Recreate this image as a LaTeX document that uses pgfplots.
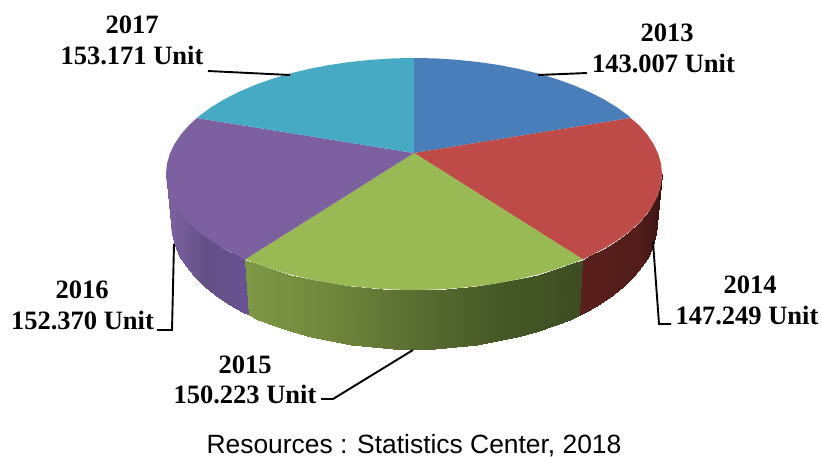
\documentclass[border=0pt]{standalone}
\usepackage{fontspec}
\setmainfont{Liberation Serif}
\newfontfamily\sourcefont{Liberation Sans}
\usepackage{pgfplots}
\pgfplotsset{compat=1.18}

% Top faces
\definecolor{c2013}{HTML}{4A7EBB}
\definecolor{c2014}{HTML}{BE4B48}
\definecolor{c2015}{HTML}{98B954}
\definecolor{c2016}{HTML}{7D60A0}
\definecolor{c2017}{HTML}{46AAC5}
% Mid tones laid under the shaded rims
\definecolor{base2014}{RGB}{80,28,26}
\definecolor{base2015}{RGB}{90,110,50}
\definecolor{base2016}{RGB}{106,84,142}

\tikzset{
  leader/.style={black, line width=1.9pt},
  yearlabel/.style={font=\fontsize{26.5}{26.5}\selectfont\bfseries, anchor=base, inner sep=0pt},
}
\pgfplotsset{
  rim/.style={patch, patch type=rectangle, shader=interp, point meta=x},
  colormap={rimPurple}{rgb255(0)=(122,97,158) rgb255(172)=(122,97,158) rgb255(205)=(100,80,135) rgb255(249)=(105,82,145) rgb255(821)=(105,82,145)},
  colormap={rimGreen}{rgb255(0)=(126,152,70) rgb255(245)=(126,152,70) rgb255(330)=(112,135,60) rgb255(414)=(90,110,50) rgb255(500)=(70,88,38) rgb255(583)=(62,77,34) rgb255(821)=(62,77,34)},
  colormap={rimRed}{rgb255(0)=(90,31,28) rgb255(580)=(90,31,28) rgb255(640)=(82,29,27) rgb255(662)=(58,20,18) rgb255(821)=(58,20,18)},
}

\begin{document}
\begin{tikzpicture}
\path[use as bounding box] (0,0) rectangle (821pt,457pt);
\begin{axis}[
  at={(0,0)}, anchor=south west,
  scale only axis, width=821pt, height=457pt,
  xmin=0, xmax=821, ymin=0, ymax=457, y dir=reverse,
  point meta min=0, point meta max=821,
  hide axis, clip=false,
  every axis plot/.append style={forget plot},
]
% Flat underlays of the three visible rim sections
\addplot[fill=base2016, draw=none, no markers] coordinates {
  (168,176) (169.8,194.1) (181,213.7) (199.2,232) (224,248.6) (246,262)
  (248.5,314) (242.2,311) (227.9,303) (215,294.3) (203.6,285) (193.8,275.2)
  (185.7,265.1) (179.3,254.6) (174.7,243.9) (171.9,233)
} -- cycle;
\addplot[fill=base2015, draw=none, no markers] coordinates {
  (246,262) (290,276) (370.9,290) (414,292) (457.1,290) (538,276) (582,262)
  (579.5,314) (570.2,318.5) (553.4,325.2) (535.5,331.1) (516.7,336.2)
  (497.1,340.4) (476.9,343.7) (456.2,346.1) (435.2,347.5) (414,348)
  (392.8,347.5) (371.8,346.1) (351.1,343.7) (330.9,340.4) (311.3,336.2)
  (292.5,331.1) (274.6,325.2) (257.8,318.5) (248.5,314)
} -- cycle;
\addplot[fill=base2014, draw=none, no markers] coordinates {
  (582,262) (604,250) (628.8,234) (647,215) (658.2,195) (660,176)
  (656,233) (653,243.9) (648.2,254.6) (641.8,265.1) (633.7,275.2)
  (623.9,285) (612.5,294.3) (599.6,303) (585.3,311) (579.5,314)
} -- cycle;

% Rim of the 2016 slice, as quads between the upper and lower edges
\addplot[rim, colormap name=rimPurple] coordinates {
  (166,174) (166.9,184.1) (171.9,234) (171,223)
  (166.9,184.1) (169.8,194.1) (174.7,244.9) (171.9,234)
  (169.8,194.1) (174.5,204) (179.3,255.6) (174.7,244.9)
  (174.5,204) (181,213.7) (185.7,266.1) (179.3,255.6)
  (181,213.7) (189.2,223) (193.8,276.2) (185.7,266.1)
  (189.2,223) (199.2,232) (203.6,286) (193.8,276.2)
  (199.2,232) (210.8,240.5) (215,295.3) (203.6,286)
  (210.8,240.5) (224,248.6) (227.9,304) (215,295.3)
  (224,248.6) (238.6,256) (242.2,312.1) (227.9,304)
  (238.6,256) (245,259.5) (249,315) (242.2,312.1)
};
% Rim of the 2015 slice
\addplot[rim, colormap name=rimGreen] coordinates {
  (245,259.5) (254.6,262.9) (257.8,319.5) (249,315)
  (254.6,262.9) (271.7,269) (274.6,326.2) (257.8,319.5)
  (271.7,269) (290,274.5) (292.5,332.1) (274.6,326.2)
  (290,274.5) (309.2,279.1) (311.3,337.2) (292.5,332.1)
  (309.2,279.1) (329.2,283) (330.9,341.4) (311.3,337.2)
  (329.2,283) (349.8,286) (351.1,344.7) (330.9,341.4)
  (349.8,286) (370.9,288.2) (371.8,347.1) (351.1,344.7)
  (370.9,288.2) (392.4,289.6) (392.8,348.5) (371.8,347.1)
  (392.4,289.6) (414,290) (414,349) (392.8,348.5)
  (414,290) (435.6,289.6) (435.2,348.5) (414,349)
  (435.6,289.6) (457.1,288.2) (456.2,347.1) (435.2,348.5)
  (457.1,288.2) (478.2,286) (476.9,344.7) (456.2,347.1)
  (478.2,286) (498.8,283) (497.1,341.4) (476.9,344.7)
  (498.8,283) (518.8,279.1) (516.7,337.2) (497.1,341.4)
  (518.8,279.1) (538,274.5) (535.5,332.1) (516.7,337.2)
  (538,274.5) (556.3,269) (553.4,326.2) (535.5,332.1)
  (556.3,269) (573.4,262.9) (570.2,319.5) (553.4,326.2)
  (573.4,262.9) (583,259.5) (580,315) (570.2,319.5)
};
% Rim of the 2014 slice
\addplot[rim, colormap name=rimRed] coordinates {
  (583,259.5) (589.4,256) (585.8,312.1) (580,315)
  (589.4,256) (604,248.6) (600.1,304) (585.8,312.1)
  (604,248.6) (617.2,240.5) (613,295.3) (600.1,304)
  (617.2,240.5) (628.8,232) (624.4,286) (613,295.3)
  (628.8,232) (638.8,223) (634.2,276.2) (624.4,286)
  (638.8,223) (647,213.7) (642.3,266.1) (634.2,276.2)
  (647,213.7) (653.5,204) (648.7,255.6) (642.3,266.1)
  (653.5,204) (658.2,194.1) (653.3,244.9) (648.7,255.6)
  (658.2,194.1) (661.1,184.1) (656.1,234) (653.3,244.9)
  (661.1,184.1) (662,174) (657,223) (656.1,234)
};

% Top faces, each from the apex around its stretch of the rim
\addplot[fill=c2013, draw=none, no markers] coordinates {
  (414,153) (414,58) (435.6,58.4) (457.1,59.8) (478.2,62) (498.8,65) (518.8,68.9)
  (538,73.5) (556.3,79) (573.4,85.1) (589.4,92) (604,99.4) (617.2,107.5)
  (628.8,116) (630.5,118)
} -- cycle;
\addplot[fill=c2014, draw=none, no markers] coordinates {
  (414,153) (630.5,118) (638.8,125) (647,134.3) (653.5,144) (658.2,153.9)
  (661.1,163.9) (662,174) (661.1,184.1) (658.2,194.1) (653.5,204) (647,213.7)
  (638.8,223) (628.8,232) (617.2,240.5) (604,248.6) (589.4,256) (583,259.5)
} -- cycle;
\addplot[fill=c2015, draw=none, no markers] coordinates {
  (414,153) (583,259.5) (573.4,262.9) (556.3,269) (538,274.5) (518.8,279.1)
  (498.8,283) (478.2,286) (457.1,288.2) (435.6,289.6) (414,290) (392.4,289.6)
  (370.9,288.2) (349.8,286) (329.2,283) (309.2,279.1) (290,274.5) (271.7,269)
  (254.6,262.9) (245,259.5)
} -- cycle;
\addplot[fill=c2016, draw=none, no markers] coordinates {
  (414,153) (245,259.5) (238.6,256) (224,248.6) (210.8,240.5) (199.2,232)
  (189.2,223) (181,213.7) (174.5,204) (169.8,194.1) (166.9,184.1) (166,174)
  (166.9,163.9) (169.8,153.9) (174.5,144) (181,134.3) (189.2,125) (197,118)
} -- cycle;
\addplot[fill=c2017, draw=none, no markers] coordinates {
  (414,153) (197,118) (199.2,116) (210.8,107.5) (224,99.4) (238.6,92) (254.6,85.1)
  (271.7,79) (290,73.5) (309.2,68.9) (329.2,65) (349.8,62) (370.9,59.8)
  (392.4,58.4) (414,58)
} -- cycle;

% Leader lines
\addplot[leader, no markers] coordinates {(208,71) (290,75)};
\addplot[leader, no markers] coordinates {(538,75) (587,73)};
\addplot[leader, no markers] coordinates {(653,242) (659,324) (671,324)};
\addplot[leader, no markers] coordinates {(413,350) (333,399) (321,399)};
\addplot[leader, no markers] coordinates {(174,244) (172,330) (157,330)};

% Slice labels
\node[yearlabel] at (axis cs:667,42) {2013};
\node[yearlabel] at (axis cs:663.5,73) {143.007 Unit};
\node[yearlabel] at (axis cs:750,293) {2014};
\node[yearlabel] at (axis cs:747,324) {147.249 Unit};
\node[yearlabel] at (axis cs:245,373) {2015};
\node[yearlabel] at (axis cs:245,403) {150.223 Unit};
\node[yearlabel] at (axis cs:82,298) {2016};
\node[yearlabel] at (axis cs:82.5,329) {152.370 Unit};
\node[yearlabel] at (axis cs:132,34) {2017};
\node[yearlabel] at (axis cs:132,65) {153.171 Unit};

\node[font=\sourcefont\fontsize{26.4}{26.4}\selectfont, anchor=base, inner sep=0pt]
  at (axis cs:414,453) {Resources : Statistics Center, 2018};
\end{axis}
\end{tikzpicture}
\end{document}
